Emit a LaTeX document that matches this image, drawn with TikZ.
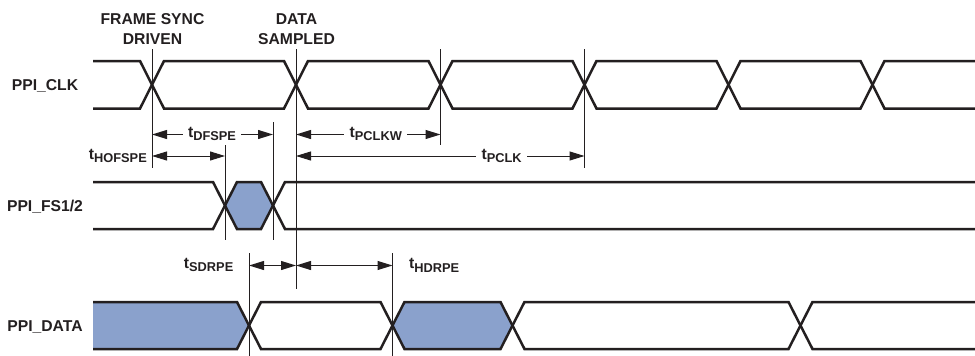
\documentclass[tikz,border=0pt]{standalone}
\usepackage{fontspec}
\setmainfont{Liberation Sans}
\usetikzlibrary{arrows.meta}
\definecolor{ink}{HTML}{231F20}
\definecolor{busblue}{RGB}{138,161,204}
\newcommand\tlab[1]{t\raisebox{-3.4pt}{\fontsize{12.8}{13}\selectfont #1}}
\begin{document}
\begin{tikzpicture}[x=1pt,y=-1pt,
  wave/.style={draw=ink, line width=2.5pt},
  busfill/.style={fill=busblue, draw=none},
  guide/.style={draw=ink, line width=1pt},
  dim/.style={draw=ink, line width=1pt, >={Triangle[length=15pt,width=9pt]}, <->},
  lab/.style={font=\bfseries\fontsize{15.7}{19.5}\selectfont, text=ink, inner sep=0pt},
  tl/.style={lab, fill=white, inner xsep=5.5pt, inner ysep=1pt}]
\useasboundingbox (0,0) rectangle (975,356);

% ---------- fills ----------
\fill[busfill] (225,205.5) -- (237,182) -- (261,182) -- (273,205.5) -- (261,229) -- (237,229) -- cycle;
\fill[busfill] (93,302) -- (237,302) -- (249,325.5) -- (237,349) -- (93,349) -- cycle;
\fill[busfill] (392.5,325.5) -- (404.5,302) -- (500.5,302) -- (512.5,325.5) -- (500.5,349) -- (404.5,349) -- cycle;

% ---------- guide lines ----------
\coordinate (g1t) at (152,49);   \coordinate (g1b) at (152,168);
\coordinate (g2t) at (225,145);  \coordinate (g2b) at (225,240);
\coordinate (g3t) at (273,122);  \coordinate (g3b) at (273,240);
\coordinate (g4t) at (296,49);   \coordinate (g4b) at (296,289);
\coordinate (g5t) at (440.5,49); \coordinate (g5b) at (440.5,145);
\coordinate (g6t) at (584.5,49); \coordinate (g6b) at (584.5,168);
\coordinate (g7t) at (249,253);  \coordinate (g7b) at (249,356);
\coordinate (g8t) at (392.5,253);\coordinate (g8b) at (392.5,356);
\foreach \g in {1,...,8} \draw[guide] (g\g t) -- (g\g b);

% ---------- PPI_CLK ----------
\draw[wave] (93,61) -- (140,61) -- (164,108.5) -- (284,108.5) -- (308,61) -- (428.5,61) -- (452.5,108.5) -- (572.5,108.5) -- (596.5,61) -- (716.5,61) -- (740.5,108.5) -- (860.5,108.5) -- (884.5,61) -- (975,61);
\draw[wave] (93,108.5) -- (140,108.5) -- (164,61) -- (284,61) -- (308,108.5) -- (428.5,108.5) -- (452.5,61) -- (572.5,61) -- (596.5,108.5) -- (716.5,108.5) -- (740.5,61) -- (860.5,61) -- (884.5,108.5) -- (975,108.5);

% ---------- PPI_FS1/2 ----------
\draw[wave] (93,182) -- (213,182) -- (237,229) -- (261,229) -- (285,182) -- (975,182);
\draw[wave] (93,229) -- (213,229) -- (237,182) -- (261,182) -- (285,229) -- (975,229);

% ---------- PPI_DATA ----------
\draw[wave] (93,302) -- (237,302) -- (261,349) -- (380.5,349) -- (404.5,302) -- (500.5,302) -- (524.5,349) -- (788.5,349) -- (812.5,302) -- (975,302);
\draw[wave] (93,349) -- (237,349) -- (261,302) -- (380.5,302) -- (404.5,349) -- (500.5,349) -- (524.5,302) -- (788.5,302) -- (812.5,349) -- (975,349);

% ---------- dimension arrows ----------
\coordinate (dfA) at (152,134.5);  \coordinate (dfB) at (273,134.5);
\coordinate (hoA) at (152,156);    \coordinate (hoB) at (225,156);
\coordinate (pwA) at (296,134.5);  \coordinate (pwB) at (440.5,134.5);
\coordinate (pcA) at (296,156);    \coordinate (pcB) at (584.5,156);
\coordinate (sdA) at (249,265.5);  \coordinate (sdB) at (296,265.5);
\coordinate (hdB) at (392.5,265.5);
\draw[dim] (dfA) -- (dfB);
\draw[dim] (hoA) -- (hoB);
\draw[dim] (pwA) -- (pwB);
\draw[dim] (pcA) -- (pcB);
\draw[dim] (sdA) -- (sdB);
\draw[dim] (sdB) -- (hdB);

% ---------- timing labels ----------
\node[tl, anchor=base] (tdf) at (212,137.5) {\tlab{DFSPE}};
\node[tl, anchor=base] (tpw) at (375.8,137.5) {\tlab{PCLKW}};
\node[tl, anchor=base] (tpc) at (501.7,159) {\tlab{PCLK}};
\node[lab, anchor=base east] (tho) at (147,159.2) {\tlab{HOFSPE}};
\node[lab, anchor=base east] (tsd) at (233.5,268.5) {\tlab{SDRPE}};
\node[lab, anchor=base west] (thd) at (409,268.8) {\tlab{HDRPE}};

% ---------- headings and signal names ----------
\node[lab, align=center, anchor=north] (fsd) at (152.5,13.5) {FRAME SYNC\\DRIVEN};
\node[lab, align=center, anchor=north] (dsm) at (296.5,13.5) {DATA\\SAMPLED};
\node[lab, anchor=base] (nclk) at (45,90.4) {PPI\_CLK};
\node[lab, anchor=base] (nfs) at (45,211.1) {PPI\_FS1/2};
\node[lab, anchor=base] (ndata) at (45,331.1) {PPI\_DATA};
\end{tikzpicture}
\end{document}
